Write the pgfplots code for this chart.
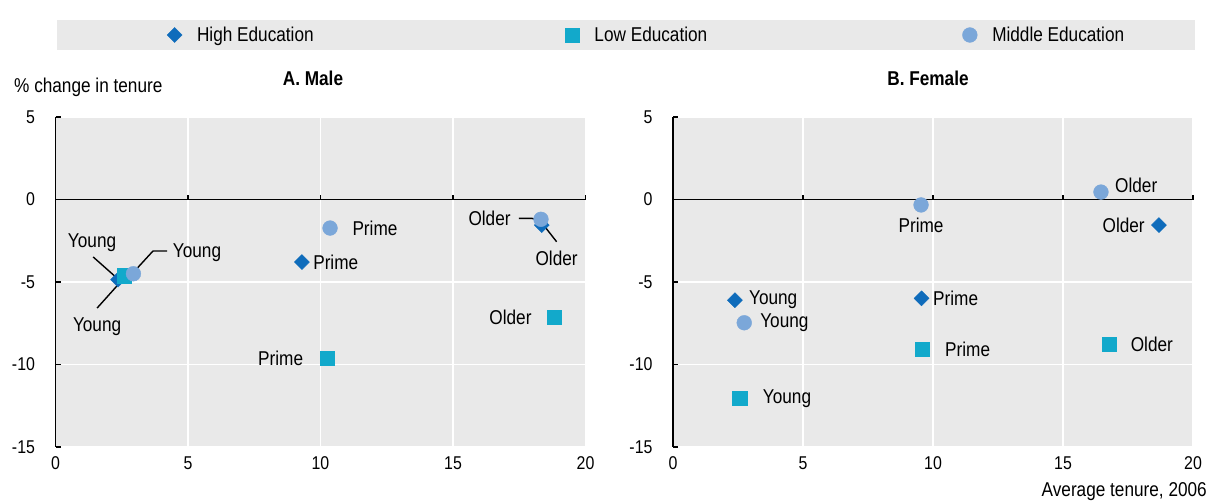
\documentclass[border=0pt]{standalone}
\usepackage{pgfplots}
\pgfplotsset{compat=1.18}
\usepackage{fontspec}
\setmainfont{Liberation Sans}[FakeStretch=0.86]
\definecolor{hi}{HTML}{0F6CBB}
\definecolor{lo}{HTML}{12A9CB}
\definecolor{mid}{HTML}{7BA7D9}
\definecolor{bg}{HTML}{E9E9E9}
\newcommand\lbl{\fontsize{20}{22}\selectfont}
\newcommand\tck{\fontsize{18.5}{20}\selectfont}
\pgfplotsset{
  base/.style={
    scale only axis, height=330pt,
    xmin=0, xmax=20, ymin=-15, ymax=5,
    xtick={0,5,10,15,20}, ytick={-15,-10,-5,0,5},
    axis line style={draw=none},
    major tick length=0pt, tick style={draw=none},
    xmajorgrids, ymajorgrids, grid style={white, line width=1.8pt},
    axis background/.style={fill=bg},
    tick label style={font=\tck},
    /pgf/number format/assume math mode=true,
    xticklabel style={yshift=-6pt}, yticklabel style={xshift=-17pt},
    clip=false, anchor=north west,
    only marks,
  },
}
\tikzset{
  hiS/.style={mark=square*, mark size=5.3pt, mark options={rotate=45, fill=hi, draw=hi, line width=0.4pt}},
  loS/.style={mark=square*, mark size=7.2pt, mark options={fill=lo, draw=lo, line width=0.4pt}},
  miS/.style={mark=*, mark size=7.4pt, mark options={fill=mid, draw=mid, line width=0.4pt}},
  frm/.style={line width=1.8pt, black},
  tk/.style={line width=1.5pt, black},
  ld/.style={line width=1.4pt, black},
}
\begin{document}
\begin{tikzpicture}
\useasboundingbox (0pt,0pt) rectangle (1213pt,-503pt);
\fill[bg] (57pt,-20pt) rectangle (1195pt,-50pt);
\node[anchor=west, font=\lbl, inner sep=0pt] at (14pt,-87pt) {\% change in tenure};
\node[font=\lbl\bfseries, inner sep=0pt] at (313pt,-78pt) {A. Male};
\node[font=\lbl\bfseries, inner sep=0pt] at (928pt,-78pt) {B. Female};
\node[anchor=east, font=\lbl, inner sep=0pt] at (1207pt,-492pt) {Average tenure, 2006};

% ---------------- Male ----------------
\begin{axis}[base, at={(55.5pt,-117pt)}, width=530pt,
  legend style={at={(0.2045,1.2485)}, anchor=west, draw=none, fill=none,
    legend columns=3, font=\lbl, /tikz/every even column/.append style={column sep=0pt}}]
\draw[frm] (axis cs:0,5) -- (axis cs:0,-15);
\draw[frm] (axis cs:0,0) -- (axis cs:20,0);
\draw[tk] (axis cs:0,5) -- ++(5pt,0pt);
\draw[tk] (axis cs:0,-5) -- ++(5pt,0pt);
\draw[tk] (axis cs:0,-10) -- ++(5pt,0pt);
\draw[tk] (axis cs:0,-15) -- ++(5pt,0pt);
\draw[tk] (axis cs:5,0) -- ++(0pt,5pt);
\draw[tk] (axis cs:10,0) -- ++(0pt,5pt);
\draw[tk] (axis cs:15,0) -- ++(0pt,5pt);
\draw[tk] (axis cs:20,0) -- ++(0pt,5pt);
% leader lines
\draw[ld] (axis cs:1.42,-3.48) -- (axis cs:2.36,-4.82);
\draw[ld] (axis cs:1.57,-6.58) -- (axis cs:2.62,-4.70);
\draw[ld] (axis cs:4.21,-3.12) -- (axis cs:3.68,-3.12) -- (axis cs:2.92,-4.45);
\draw[ld] (axis cs:17.49,-1.14) -- (axis cs:17.98,-1.14) -- (axis cs:18.32,-1.35);
\draw[ld] (axis cs:18.32,-1.35) -- (axis cs:18.91,-2.56);
\addplot[hiS] coordinates {(2.36,-4.85) (9.30,-3.79) (18.35,-1.55)};
\addlegendentry{\makebox[379pt][l]{\hspace{13pt}High Education}}
\addplot[loS] coordinates {(2.60,-4.62) (10.25,-9.61) (18.82,-7.14)};
\addlegendentry{\makebox[379pt][l]{\hspace{13pt}Low Education}}
\addplot[miS] coordinates {(2.94,-4.50) (10.36,-1.73) (18.32,-1.20)};
\addlegendentry{\makebox[170pt][l]{\hspace{13pt}Middle Education}}
\node[font=\lbl, inner sep=0pt] at (axis cs:1.38,-2.64) {Young};
\node[font=\lbl, inner sep=0pt] at (axis cs:1.57,-7.73) {Young};
\node[font=\lbl, inner sep=0pt] at (axis cs:5.34,-3.24) {Young};
\node[font=\lbl, inner sep=0pt, anchor=west] at (axis cs:11.2,-1.75) {Prime};
\node[font=\lbl, inner sep=0pt, anchor=west] at (axis cs:9.72,-3.82) {Prime};
\node[font=\lbl, inner sep=0pt, anchor=east] at (axis cs:9.35,-9.6) {Prime};
\node[font=\lbl, inner sep=0pt, anchor=east] at (axis cs:17.18,-1.15) {Older};
\node[font=\lbl, inner sep=0pt] at (axis cs:18.91,-3.56) {Older};
\node[font=\lbl, inner sep=0pt, anchor=east] at (axis cs:17.97,-7.14) {Older};
\end{axis}

% ---------------- Female ----------------
\begin{axis}[base, at={(673pt,-117pt)}, width=520pt]
\draw[frm] (axis cs:0,5) -- (axis cs:0,-15);
\draw[frm] (axis cs:0,0) -- (axis cs:20,0);
\draw[tk] (axis cs:0,5) -- ++(5pt,0pt);
\draw[tk] (axis cs:0,-5) -- ++(5pt,0pt);
\draw[tk] (axis cs:0,-10) -- ++(5pt,0pt);
\draw[tk] (axis cs:0,-15) -- ++(5pt,0pt);
\draw[tk] (axis cs:5,0) -- ++(0pt,5pt);
\draw[tk] (axis cs:10,0) -- ++(0pt,5pt);
\draw[tk] (axis cs:15,0) -- ++(0pt,5pt);
\draw[tk] (axis cs:20,0) -- ++(0pt,5pt);
\addplot[hiS] coordinates {(2.38,-6.10) (9.56,-5.99) (18.69,-1.55)};
\addplot[loS] coordinates {(2.57,-12.05) (9.59,-9.06) (16.78,-8.76)};
\addplot[miS] coordinates {(2.74,-7.47) (9.54,-0.33) (16.46,0.45)};
\node[font=\lbl, inner sep=0pt, anchor=west] at (axis cs:2.92,-6.10) {Young};
\node[font=\lbl, inner sep=0pt, anchor=west] at (axis cs:3.35,-7.47) {Young};
\node[font=\lbl, inner sep=0pt, anchor=west] at (axis cs:3.45,-12.05) {Young};
\node[font=\lbl, inner sep=0pt] at (axis cs:9.54,-1.55) {Prime};
\node[font=\lbl, inner sep=0pt, anchor=west] at (axis cs:10.0,-5.99) {Prime};
\node[font=\lbl, inner sep=0pt, anchor=west] at (axis cs:10.46,-9.06) {Prime};
\node[font=\lbl, inner sep=0pt, anchor=west] at (axis cs:17.0,0.88) {Older};
\node[font=\lbl, inner sep=0pt, anchor=east] at (axis cs:18.15,-1.55) {Older};
\node[font=\lbl, inner sep=0pt, anchor=west] at (axis cs:17.6,-8.76) {Older};
\end{axis}
\end{tikzpicture}
\end{document}
